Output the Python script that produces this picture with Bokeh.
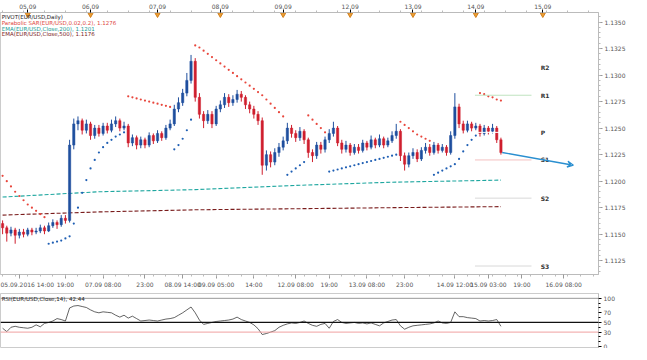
from bokeh.plotting import figure
from bokeh.models import (Range1d, LinearAxis, FixedTicker, Label, Arrow, VeeHead,
                          Span, PrintfTickFormatter)
from bokeh.layouts import column
from bokeh.embed import file_html
from bokeh.resources import INLINE

# ---------------- data ----------------
first_open = 1.1160
closes = [1.1156, 1.1151, 1.1154, 1.1149, 1.1152, 1.1150, 1.1154, 1.1152, 1.1153, 1.1156,
          1.1153, 1.1158, 1.1161, 1.1159, 1.1165, 1.1163, 1.1234, 1.1254, 1.1257, 1.1248,
          1.1254, 1.1243, 1.1250, 1.1245, 1.1252, 1.1248, 1.1254, 1.1257, 1.1250, 1.1252,
          1.1236, 1.1241, 1.1234, 1.1239, 1.1234, 1.1243, 1.1238, 1.1245, 1.1241, 1.1250,
          1.1254, 1.1268, 1.1274, 1.1283, 1.1295, 1.1313, 1.1279, 1.1263, 1.1257, 1.1263,
          1.1254, 1.1268, 1.1272, 1.1279, 1.1274, 1.1277, 1.1282, 1.1279, 1.1272, 1.1268,
          1.1263, 1.1257, 1.1215, 1.1225, 1.1218, 1.1227, 1.1232, 1.1238, 1.1250, 1.1245,
          1.1241, 1.1247, 1.1239, 1.1227, 1.1224, 1.1234, 1.1230, 1.1239, 1.1245, 1.1250,
          1.1236, 1.1230, 1.1234, 1.1227, 1.1232, 1.1229, 1.1236, 1.1232, 1.1239, 1.1234,
          1.1240, 1.1234, 1.1238, 1.1243, 1.1247, 1.1224, 1.1216, 1.1224, 1.1227, 1.1221,
          1.1229, 1.1232, 1.1227, 1.1234, 1.1229, 1.1232, 1.1227, 1.1243, 1.1270, 1.1254,
          1.1248, 1.1254, 1.1250, 1.1252, 1.1245, 1.1250, 1.1247, 1.1250, 1.1239, 1.1227]
highs = [1.1163, 1.1158, 1.1157, 1.1156, 1.1155, 1.1155, 1.1156, 1.1156, 1.1156, 1.1159,
         1.1158, 1.1161, 1.1164, 1.1163, 1.1168, 1.1168, 1.1239, 1.1259, 1.1261, 1.1259,
         1.1258, 1.1256, 1.1253, 1.1253, 1.1255, 1.1255, 1.1258, 1.1261, 1.1259, 1.1256,
         1.1254, 1.1244, 1.1243, 1.1242, 1.1241, 1.1246, 1.1245, 1.1248, 1.1247, 1.1253,
         1.1258, 1.1272, 1.1279, 1.1287, 1.1302, 1.1319, 1.1316, 1.1283, 1.1266, 1.1267,
         1.1266, 1.1271, 1.1276, 1.1283, 1.1282, 1.1281, 1.1286, 1.1285, 1.1281, 1.1275,
         1.1271, 1.1266, 1.1260, 1.1229, 1.1228, 1.1231, 1.1236, 1.1242, 1.1255, 1.1253,
         1.1248, 1.1251, 1.1249, 1.1241, 1.1230, 1.1237, 1.1237, 1.1242, 1.1249, 1.1256,
         1.1252, 1.1239, 1.1238, 1.1236, 1.1235, 1.1235, 1.1239, 1.1238, 1.1243, 1.1241,
         1.1244, 1.1242, 1.1241, 1.1247, 1.1254, 1.1249, 1.1227, 1.1227, 1.1231, 1.1230,
         1.1232, 1.1236, 1.1235, 1.1237, 1.1236, 1.1235, 1.1234, 1.1247, 1.1283, 1.1273,
         1.1257, 1.1257, 1.1256, 1.1255, 1.1254, 1.1253, 1.1252, 1.1254, 1.1252, 1.1241]
lows = [1.1150, 1.1143, 1.1148, 1.1141, 1.1146, 1.1147, 1.1148, 1.1149, 1.1150, 1.1151,
        1.1150, 1.1152, 1.1156, 1.1155, 1.1157, 1.1160, 1.1161, 1.1230, 1.1248, 1.1244,
        1.1245, 1.1239, 1.1240, 1.1242, 1.1243, 1.1245, 1.1246, 1.1251, 1.1247, 1.1248,
        1.1232, 1.1233, 1.1230, 1.1231, 1.1231, 1.1232, 1.1235, 1.1236, 1.1238, 1.1239,
        1.1248, 1.1252, 1.1265, 1.1271, 1.1280, 1.1292, 1.1275, 1.1259, 1.1250, 1.1254,
        1.1250, 1.1252, 1.1265, 1.1269, 1.1270, 1.1271, 1.1274, 1.1275, 1.1268, 1.1264,
        1.1259, 1.1253, 1.1206, 1.1210, 1.1213, 1.1215, 1.1223, 1.1229, 1.1235, 1.1241,
        1.1237, 1.1238, 1.1235, 1.1222, 1.1218, 1.1221, 1.1226, 1.1227, 1.1236, 1.1242,
        1.1233, 1.1226, 1.1227, 1.1224, 1.1225, 1.1226, 1.1227, 1.1229, 1.1230, 1.1231,
        1.1232, 1.1231, 1.1232, 1.1236, 1.1240, 1.1219, 1.1210, 1.1213, 1.1221, 1.1218,
        1.1219, 1.1226, 1.1224, 1.1225, 1.1226, 1.1227, 1.1224, 1.1225, 1.1240, 1.1250,
        1.1245, 1.1246, 1.1247, 1.1248, 1.1242, 1.1243, 1.1244, 1.1245, 1.1236, 1.1225]
sar = [1.1205, 1.1200, 1.1195, 1.1190, 1.1186, 1.1182, 1.1178, 1.1175, 1.1172, 1.1169,
       1.1166, 1.1141, 1.1142, 1.1143, 1.1144, 1.1146, 1.1148, 1.1160, 1.1175, 1.1189,
       1.1201, 1.1212, 1.1220, 1.1227, 1.1232, 1.1236, 1.1239, 1.1242, 1.1244, 1.1246,
       1.1280, 1.1279, 1.1278, 1.1277, 1.1276, 1.1275, 1.1274, 1.1273, 1.1272, 1.1271,
       1.1270, 1.1230, 1.1234, 1.1240, 1.1248, 1.1258, 1.1328, 1.1326, 1.1323, 1.1320,
       1.1317, 1.1314, 1.1311, 1.1308, 1.1305, 1.1302, 1.1299, 1.1296, 1.1293, 1.1290,
       1.1287, 1.1284, 1.1281, 1.1277, 1.1273, 1.1269, 1.1265, 1.1261, 1.1206, 1.1209,
       1.1212, 1.1215, 1.1218, 1.1262, 1.1258, 1.1254, 1.1250, 1.1246, 1.1209, 1.1210,
       1.1211, 1.1212, 1.1213, 1.1214, 1.1215, 1.1216, 1.1217, 1.1218, 1.1219, 1.1220,
       1.1221, 1.1222, 1.1223, 1.1224, 1.1225, 1.1256, 1.1253, 1.1250, 1.1247, 1.1244,
       1.1242, 1.1240, 1.1238, 1.1206, 1.1208, 1.1210, 1.1212, 1.1214, 1.1216, 1.1221,
       1.1228, 1.1234, 1.1239, 1.1243, 1.1283, 1.1282, 1.1280, 1.1279, 1.1277, 1.1276]
rsi = [38, 31, 40, 42, 40, 39, 38, 40, 45, 41, 48, 50, 53, 58, 56, 53, 80, 84, 85, 83,
       81, 76, 72, 70, 72, 71, 70, 65, 61, 65, 59, 63, 58, 53, 54, 55, 54, 53, 55, 57,
       58, 60, 65, 70, 76, 82, 70, 55, 46, 48, 50, 52, 53, 54, 55, 57, 61, 56, 53, 50,
       45, 37, 25, 27, 30, 33, 40, 44, 47, 49, 48, 50, 53, 48, 44, 42, 46, 48, 38, 52,
       56, 50, 48, 49, 50, 48, 49, 47, 49, 46, 43, 49, 52, 55, 56, 43, 36, 40, 43, 44,
       45, 46, 47, 49, 53, 49, 48, 50, 72, 62, 62, 60, 59, 58, 53, 54, 53, 54, 56, 42]
ema200_idx = [0, 23, 46, 70, 93, 119]
ema200_val = [1.1185, 1.1190, 1.1192, 1.1196, 1.1199, 1.1201]
ema500_idx = [0, 23, 46, 70, 93, 119]
ema500_val = [1.1168, 1.1171, 1.1173, 1.1174, 1.1175, 1.1176]
pivot_names = ["R2", "R1", "P", "S1", "S2", "S3"]
pivot_levels = [1.1307, 1.1281, 1.1246, 1.1220, 1.1184, 1.1120]
pivot_colors = ["#ffffff", "#bfe3bf", "#ffffff", "#f3c0c0", "#d8d8d8", "#d8d8d8"]
last_price = 1.1227
forecast_x = [119.3, 136.3]
forecast_y = [1.1227, 1.1215]
bottom_ticks = [4, 15, 24, 34, 43, 51, 60, 70, 78, 87, 96, 108, 116, 124, 134]
bottom_labels = ["05.09.2016 14:00", "19:00", "07.09 08:00", "23:00", "08.09 14:00",
                 "09.09 05:00", "14:00", "12.09 08:00", "19:00", "13.09 08:00", "23:00",
                 "14.09 12:00", "15.09 03:00", "19:00", "16.09 08:00"]
top_ticks = [6, 21, 37, 52, 67, 83, 98, 113, 129]
top_labels = ["05.09", "06.09", "07.09", "08.09", "09.09", "12.09", "13.09", "14.09", "15.09"]
price_ticks = [1.1125, 1.1150, 1.1175, 1.1200, 1.1225, 1.1250, 1.1275, 1.1300, 1.1325, 1.1350]
legend_texts = ["PIVOT(EUR/USD,Daily)",
                "Parabolic SAR(EUR/USD,0.02,0.2), 1.1276",
                "EMA(EUR/USD,Close,200), 1.1201",
                "EMA(EUR/USD,Close,500), 1.1176"]
legend_colors = ["#222222", "#e0483e", "#169c94", "#7a1c1c"]
rsi_title = "RSI(EUR/USD,Close,14), 42.44"
rsi_marks = [70, 50, 30]
rsi_mark_colors = ["#d8343c", "#8a8a8a", "#d8343c"]

# ---------------- derived ----------------
n = len(closes)
idx = list(range(n))
opens = [first_open] + closes[:-1]
up = [c >= o for o, c in zip(opens, closes)]
UP, DN = "#1f4f9e", "#cf1f2e"
FONT = "DejaVu Sans"
FS = "6px"
FW = 598

p = figure(frame_width=FW, frame_height=262, x_range=Range1d(-0.5, 142.3),
           y_range=Range1d(1.1112, 1.1359), y_axis_location="right",
           output_backend="svg", toolbar_location=None, min_border=0,
           min_border_right=2, background_fill_color="white",
           outline_line_color="#cccccc")
p.xgrid.visible = False
p.ygrid.visible = False

for ax in [p.xaxis[0], p.yaxis[0]]:
    ax.major_label_text_font = FONT
    ax.major_label_text_font_size = FS
    ax.major_label_text_color = "#555555"
    ax.axis_line_color = "#bbbbbb"
    ax.major_tick_line_color = "#999999"
    ax.minor_tick_line_color = "#bbbbbb"
    ax.major_tick_in = 0
    ax.major_tick_out = 4
    ax.minor_tick_in = 0
    ax.minor_tick_out = 2
    ax.major_label_standoff = 2

p.xaxis.ticker = FixedTicker(ticks=bottom_ticks,
                             minor_ticks=[i for i in range(0, 143, 3)])
p.xaxis.major_label_overrides = {t: l for t, l in zip(bottom_ticks, bottom_labels)}
p.yaxis.ticker = FixedTicker(ticks=price_ticks,
                             minor_ticks=[1.1115 + 0.0005 * k for k in range(50)])
p.yaxis.formatter = PrintfTickFormatter(format="%.4f")

top_ax = LinearAxis(ticker=FixedTicker(ticks=top_ticks,
                                       minor_ticks=[i for i in range(0, 143, 5)]),
                    major_label_overrides={t: l for t, l in zip(top_ticks, top_labels)})
top_ax.major_label_text_font = FONT
top_ax.major_label_text_font_size = FS
top_ax.major_label_text_color = "#555555"
top_ax.axis_line_color = "#bbbbbb"
top_ax.major_tick_in = 0
top_ax.major_tick_out = 3
top_ax.minor_tick_out = 2
top_ax.minor_tick_in = 0
top_ax.minor_tick_line_color = "#bbbbbb"
top_ax.major_label_standoff = 1
p.add_layout(top_ax, "above")

# EMAs
p.line(ema200_idx, ema200_val, line_color="#1fa7a0", line_width=1.1, line_dash="4 2")
p.line(ema500_idx, ema500_val, line_color="#7a1c1c", line_width=1.1, line_dash="4 2")

# candles
wick_col = [UP if u else DN for u in up]
p.segment(x0=idx, y0=lows, x1=idx, y1=highs, line_color=wick_col, line_width=1)
p.vbar(x=idx, width=0.55, top=[max(o, c) for o, c in zip(opens, closes)],
       bottom=[min(o, c) for o, c in zip(opens, closes)],
       fill_color=wick_col, line_color=wick_col, line_width=0.5)

# Parabolic SAR
sar_col = ["#e8463c" if s > c else "#1f5fb4" for s, c in zip(sar, closes)]
p.scatter(idx, sar, size=2.2, fill_color=sar_col, line_color=None)

# pivots
for name, lev, col in zip(pivot_names, pivot_levels, pivot_colors):
    p.segment(x0=[112.8], y0=[lev], x1=[126.3], y1=[lev], line_color=col, line_width=1)
    p.add_layout(Label(x=128.5, y=lev, text=name, text_font=FONT, text_font_size="6px",
                       text_color="#333333", text_baseline="middle", text_font_style="bold"))

# forecast arrow
p.add_layout(Arrow(end=VeeHead(size=6, line_color="#2a8fd0", line_width=1.3, fill_color=None),
                   x_start=forecast_x[0], y_start=forecast_y[0],
                   x_end=forecast_x[1], y_end=forecast_y[1],
                   line_color="#2a8fd0", line_width=1.4))

# event markers on top axis
p.scatter(top_ticks, [1.1357] * len(top_ticks), marker="inverted_triangle", size=5,
          fill_color="#f0a030", line_color="#d08020")

# legend texts
for k, (t, c) in enumerate(zip(legend_texts, legend_colors)):
    p.add_layout(Label(x=-0.2, y=1.13545 - k * 0.00053, text=t, text_font=FONT,
                       text_font_size="5.5px", text_color=c, text_baseline="middle"))

# last price box (in the axis area)
p.add_layout(Label(x=FW + 2, x_units="screen", y=last_price, text=f"{last_price:.4f}",
                   text_font=FONT, text_font_size="6px", text_color="#10304a",
                   background_fill_color="#59b7ef", text_baseline="middle",
                   level="overlay"))

# ---------------- RSI panel ----------------
q = figure(frame_width=FW, frame_height=55, x_range=p.x_range, y_range=Range1d(-4, 110),
           y_axis_location="right", output_backend="svg", toolbar_location=None,
           min_border=0, min_border_right=2, min_border_top=3,
           outline_line_color="#cccccc")
q.xaxis.visible = False
q.xgrid.visible = False
q.ygrid.visible = False
q.yaxis.ticker = FixedTicker(ticks=[0, 30, 50, 70, 100], minor_ticks=[10, 20, 40, 60, 80, 90])
q.yaxis.major_label_text_font = FONT
q.yaxis.major_label_text_font_size = FS
q.yaxis.major_label_text_color = "#555555"
q.yaxis.axis_line_color = "#bbbbbb"
q.yaxis.major_tick_in = 0
q.yaxis.major_tick_out = 3
q.yaxis.minor_tick_in = 0
q.yaxis.minor_tick_out = 2
q.yaxis.major_label_standoff = 2
q.add_layout(Span(location=100, dimension="width", line_color="#999999", line_width=1))
q.add_layout(Span(location=50, dimension="width", line_color="#111111", line_width=1.3))
q.add_layout(Span(location=30, dimension="width", line_color="#f0a0a0", line_width=1))
q.line(idx, rsi, line_color="#222222", line_width=0.7)
q.add_layout(Label(x=-0.2, y=98, text=rsi_title, text_font=FONT, text_font_size="5.5px",
                   text_color="#222222", text_baseline="middle"))
for lv, bg in zip(rsi_marks, rsi_mark_colors):
    q.add_layout(Label(x=FW + 4, x_units="screen", y=lv, text=str(lv), text_font=FONT,
                       text_font_size="6px", text_color="#ffffff",
                       background_fill_color=bg, text_baseline="middle", level="overlay"))

layout = column(p, q, spacing=0)
open("out.html", "w").write(file_html(layout, INLINE))
